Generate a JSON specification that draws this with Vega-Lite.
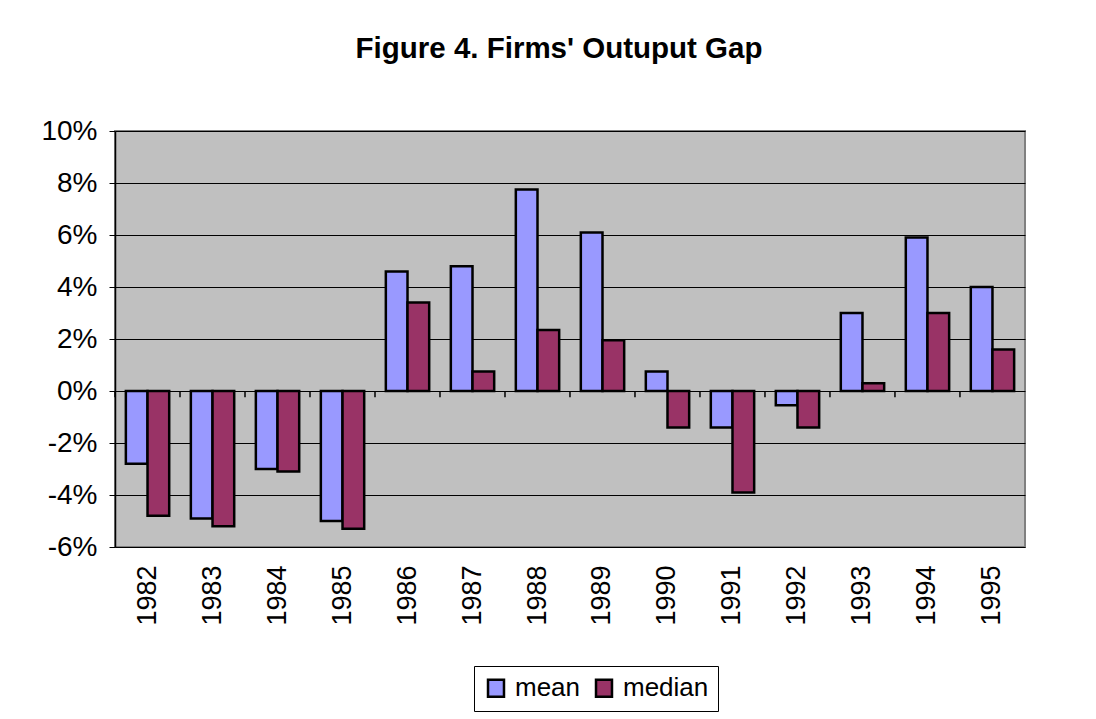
{
  "$schema": "https://vega.github.io/schema/vega-lite/v6.json",
  "autosize": {"type": "none"},
  "width": 910,
  "height": 416,
  "padding": {"left": 115, "top": 131, "right": 71, "bottom": 172},
  "background": "white",
  "title": {
    "text": "Figure 4. Firms' Outuput Gap",
    "font": "Liberation Sans",
    "fontSize": 29.5,
    "fontWeight": "bold",
    "color": "black",
    "anchor": "middle",
    "frame": "group",
    "dx": -11,
    "offset": 53
  },
  "data": {
    "values": [
      {"year": "1982", "series": "mean", "value": -0.028},
      {"year": "1982", "series": "median", "value": -0.048},
      {"year": "1983", "series": "mean", "value": -0.049},
      {"year": "1983", "series": "median", "value": -0.052},
      {"year": "1984", "series": "mean", "value": -0.030},
      {"year": "1984", "series": "median", "value": -0.031},
      {"year": "1985", "series": "mean", "value": -0.050},
      {"year": "1985", "series": "median", "value": -0.053},
      {"year": "1986", "series": "mean", "value": 0.046},
      {"year": "1986", "series": "median", "value": 0.034},
      {"year": "1987", "series": "mean", "value": 0.048},
      {"year": "1987", "series": "median", "value": 0.0075},
      {"year": "1988", "series": "mean", "value": 0.0775},
      {"year": "1988", "series": "median", "value": 0.0235},
      {"year": "1989", "series": "mean", "value": 0.061},
      {"year": "1989", "series": "median", "value": 0.0195},
      {"year": "1990", "series": "mean", "value": 0.0075},
      {"year": "1990", "series": "median", "value": -0.014},
      {"year": "1991", "series": "mean", "value": -0.014},
      {"year": "1991", "series": "median", "value": -0.039},
      {"year": "1992", "series": "mean", "value": -0.0055},
      {"year": "1992", "series": "median", "value": -0.014},
      {"year": "1993", "series": "mean", "value": 0.030},
      {"year": "1993", "series": "median", "value": 0.003},
      {"year": "1994", "series": "mean", "value": 0.059},
      {"year": "1994", "series": "median", "value": 0.030},
      {"year": "1995", "series": "mean", "value": 0.040},
      {"year": "1995", "series": "median", "value": 0.016}
    ]
  },
  "encoding": {
    "x": {
      "field": "year",
      "type": "nominal",
      "scale": {"paddingInner": 0.333, "paddingOuter": 0.167},
      "axis": {
        "title": null,
        "domain": false,
        "ticks": false,
        "grid": false,
        "labelAngle": -90,
        "labelFontSize": 27,
        "labelFont": "Liberation Sans",
        "labelColor": "black",
        "labelPadding": 18
      }
    }
  },
  "layer": [
    {
      "mark": {"type": "bar", "stroke": "black", "strokeWidth": 2.5},
      "encoding": {
        "xOffset": {"field": "series", "type": "nominal", "sort": ["mean", "median"]},
        "y": {
          "field": "value",
          "type": "quantitative",
          "scale": {"domain": [-0.06, 0.10], "nice": false, "zero": true},
          "axis": {
            "title": null,
            "format": ".0%",
            "labelExpr": "replace(datum.label, '−', '-')",
            "values": [-0.06, -0.04, -0.02, 0, 0.02, 0.04, 0.06, 0.08, 0.10],
            "domain": true,
            "domainColor": "black",
            "domainWidth": 1.5,
            "ticks": true,
            "tickSize": 6,
            "tickColor": "black",
            "grid": true,
            "gridColor": "black",
            "gridWidth": 1,
            "gridOpacity": 1,
            "labelFontSize": 28,
            "labelFont": "Liberation Sans",
            "labelColor": "black",
            "labelPadding": 12
          }
        },
        "color": {
          "field": "series",
          "type": "nominal",
          "sort": ["mean", "median"],
          "scale": {"domain": ["mean", "median"], "range": ["#9999FF", "#993366"]},
          "legend": {
            "title": null,
            "orient": "none",
            "legendX": 359,
            "legendY": 535,
            "direction": "horizontal",
            "strokeColor": "black",
            "fillColor": "white",
            "padding": 9,
            "labelFontSize": 26,
            "labelFont": "Liberation Sans",
            "labelColor": "black",
            "labelOffset": 6,
            "columnPadding": 10,
            "symbolType": "M-0.94,-1H0.94V1H-0.94Z",
            "symbolSize": 289,
            "symbolStrokeColor": "black",
            "symbolStrokeWidth": 2.5,
            "symbolOpacity": 1
          }
        }
      }
    },
    {
      "transform": [{"filter": "datum.series == 'mean'"}],
      "mark": {"type": "rule", "color": "black", "strokeWidth": 1.5},
      "encoding": {
        "x": {"field": "year", "type": "nominal", "bandPosition": -0.25},
        "y": {"datum": 0},
        "y2": {"datum": -0.0024}
      }
    }
  ],
  "config": {
    "view": {"fill": "#C0C0C0", "stroke": "#808080", "strokeWidth": 2}
  }
}
